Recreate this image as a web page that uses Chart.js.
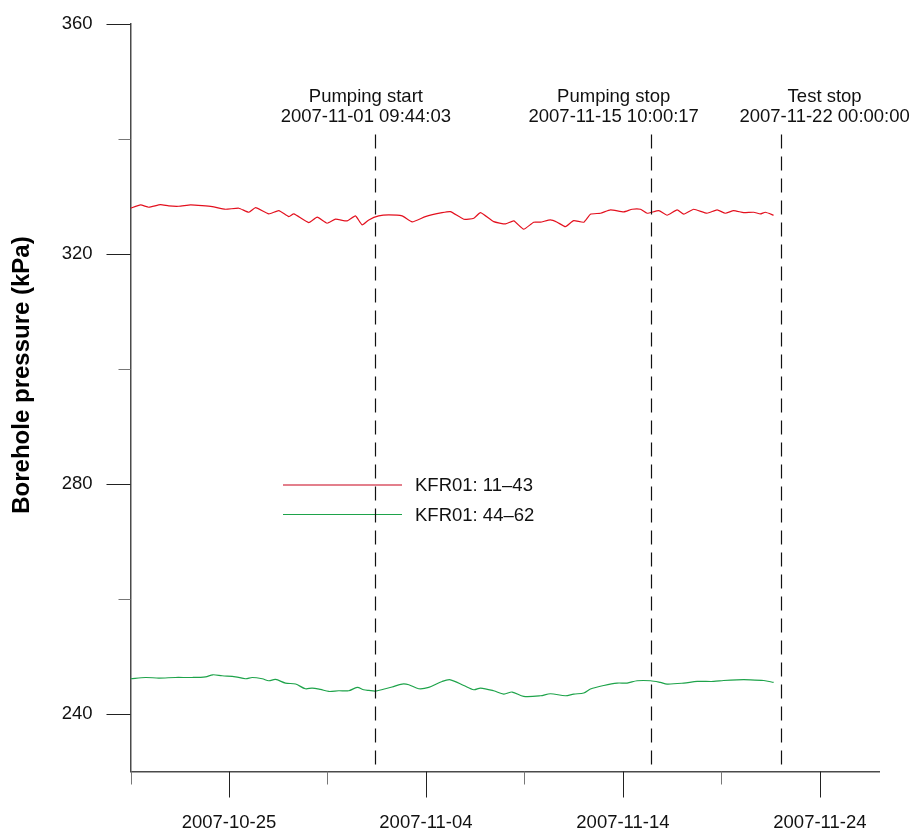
<!DOCTYPE html>
<html>
<head>
<meta charset="utf-8">
<script src="https://cdn.jsdelivr.net/npm/chart.js@4.4.0/dist/chart.umd.min.js"></script>
<style>
  html, body { margin: 0; padding: 0; background: #fff; }
</style>
</head>
<body>
<canvas id="chart" width="916" height="831"></canvas>
<script>
// x values are days after 2007-10-20 00:00
const START = Date.UTC(2007, 9, 20);
const DAY = 86400000;

const redDays = [0.00, 0.51, 0.93, 1.52, 1.94, 2.45, 3.05, 3.64, 4.15, 4.82, 5.50, 6.01, 6.35, 7.02, 7.53, 8.04, 8.29, 9.05, 9.48, 9.98,
  10.41, 11.00, 11.42, 11.76, 12.10, 12.60, 13.11, 13.79, 14.30, 14.97, 15.82, 16.24, 16.92, 17.43, 17.77, 18.44, 19.04, 19.46, 19.96,
  20.47, 20.81, 21.32, 21.66, 22.08, 22.50, 23.01, 23.35, 23.86, 24.37, 25.04, 25.47, 25.89, 26.23, 26.82, 27.24, 27.75, 28.09, 28.59,
  29.27, 29.78, 30.20, 30.62, 31.13, 31.64, 31.98, 32.23, 32.65];
const redKPa = [327.96, 328.53, 328.13, 328.58, 328.36, 328.30, 328.53, 328.41, 328.24, 327.78, 327.96, 327.26, 328.06, 326.97, 327.54,
  326.50, 326.97, 325.46, 326.40, 325.35, 326.05, 325.75, 326.62, 325.06, 325.93, 326.62, 326.80, 326.62, 325.58, 326.50, 327.19, 327.37,
  326.05, 326.22, 327.19, 325.63, 325.23, 325.75, 324.31, 325.53, 325.53, 325.93, 325.53, 324.76, 325.80, 325.53, 326.92, 327.09, 327.66,
  327.32, 327.78, 327.78, 327.09, 327.54, 326.74, 327.66, 326.92, 327.78, 327.09, 327.66, 327.09, 327.54, 327.19, 327.26, 326.97, 327.26,
  326.74];

const greenDays = [0.00, 0.76, 1.44, 2.28, 3.13, 3.81, 4.18, 4.65, 5.33, 5.84, 6.18, 6.69, 7.02, 7.36, 7.87, 8.38, 8.88, 9.22, 9.64, 10.07,
  10.57, 11.08, 11.51, 11.84, 12.10, 12.44, 12.94, 13.28, 13.79, 14.13, 14.63, 15.14, 15.82, 16.24, 16.92, 17.43, 17.77, 18.44, 18.95,
  19.38, 19.96, 20.81, 21.32, 22.08, 22.50, 23.01, 23.35, 24.03, 24.71, 25.21, 25.72, 26.40, 26.90, 27.24, 28.09, 28.77, 29.61, 30.11,
  30.79, 31.47, 32.15, 32.65];
const greenKPa = [246.13, 246.35, 246.25, 246.35, 246.35, 246.47, 246.82, 246.65, 246.47, 246.13, 246.35, 246.13, 245.78, 246.01, 245.38,
  245.21, 244.39, 244.51, 244.27, 243.92, 244.04, 244.04, 244.62, 244.22, 244.10, 243.99, 244.39, 244.69, 245.21, 245.09, 244.39, 244.62,
  245.66, 245.95, 244.96, 244.22, 244.51, 244.04, 243.47, 243.82, 243.06, 243.17, 243.52, 243.17, 243.47, 243.65, 244.34, 244.96, 245.38,
  245.38, 245.78, 245.78, 245.49, 245.21, 245.38, 245.66, 245.66, 245.83, 245.95, 245.95, 245.83, 245.49];

const seriesNames = ['KFR01: 11\u201343', 'KFR01: 44\u201362'];

const eventNames = ['Pumping start', 'Pumping stop', 'Test stop'];
const eventTimes = ['2007-11-01 09:44:03', '2007-11-15 10:00:17', '2007-11-22 00:00:00'];
const eventLabelDays = [11.95, 24.53, 35.24];

const xMajorTicks = [5, 15, 25, 35];
const xMinorTicks = [0, 10, 20, 30];
const yMajorTicks = [240, 280, 320, 360];
const yMinorTicks = [260, 300, 340];

const FONT = "'Liberation Sans', Arial, sans-serif";
const RED = '#e3101e';
const GREEN = '#1ea34a';

function toDays(s) {
  return (Date.parse(s.replace(' ', 'T') + 'Z') - START) / DAY;
}

function dayLabel(d) {
  return new Date(START + d * DAY).toISOString().slice(0, 10);
}

// fixed axis boxes, no extra label overflow padding
function fixBox(size) {
  return s => {
    if (s.isHorizontal()) s.height = size; else s.width = size;
    s.paddingTop = 0; s.paddingBottom = 0; s.paddingLeft = 0; s.paddingRight = 0;
  };
}

const overlay = {
  id: 'overlay',
  afterDatasetsDraw(chart) {
    const ctx = chart.ctx;
    const xs = chart.scales.x, ys = chart.scales.y;
    const area = chart.chartArea;
    ctx.save();

    // tick marks
    ctx.lineWidth = 1;
    const tick = (x1, y1, x2, y2, col) => {
      ctx.strokeStyle = col;
      ctx.beginPath(); ctx.moveTo(x1, y1); ctx.lineTo(x2, y2); ctx.stroke();
    };
    yMajorTicks.forEach(v => { const y = Math.round(ys.getPixelForValue(v)) + 0.5; tick(area.left - 24, y, area.left, y, '#222'); });
    yMinorTicks.forEach(v => { const y = Math.round(ys.getPixelForValue(v)) + 0.5; tick(area.left - 12, y, area.left, y, '#777'); });
    xMajorTicks.forEach(v => { const x = Math.round(xs.getPixelForValue(v)) + 0.5; tick(x, area.bottom, x, area.bottom + 26, '#222'); });
    xMinorTicks.forEach(v => { const x = Math.round(xs.getPixelForValue(v)) + 0.5; tick(x, area.bottom, x, area.bottom + 13, '#777'); });

    // legend
    ctx.lineWidth = 1.2;
    [RED, GREEN].forEach((col, i) => {
      const y = 485 + i * 29.5;
      tick(283, y, 402, y, i === 0 ? '#c8001a' : col);
      ctx.fillStyle = '#111';
      ctx.font = '18.5px ' + FONT;
      ctx.textAlign = 'left';
      ctx.textBaseline = 'middle';
      ctx.fillText(seriesNames[i], 415, y + 1);
    });

    // event lines and labels
    ctx.setLineDash([14, 8]);
    ctx.strokeStyle = '#111';
    ctx.lineWidth = 1.2;
    eventTimes.forEach(t => {
      const x = Math.round(xs.getPixelForValue(toDays(t))) + 0.5;
      ctx.beginPath();
      ctx.moveTo(x, ys.getPixelForValue(340.8));
      ctx.lineTo(x, area.bottom);
      ctx.stroke();
    });
    ctx.setLineDash([]);
    ctx.fillStyle = '#111';
    ctx.font = '18.5px ' + FONT;
    ctx.textAlign = 'center';
    ctx.textBaseline = 'alphabetic';
    eventNames.forEach((n, i) => {
      const x = xs.getPixelForValue(eventLabelDays[i]);
      ctx.fillText(n, x, ys.getPixelForValue(346.5));
      ctx.fillText(eventTimes[i], x, ys.getPixelForValue(343.0));
    });

    // y axis title
    ctx.translate(22.5, 375);
    ctx.rotate(-Math.PI / 2);
    ctx.font = 'bold 24px ' + FONT;
    ctx.textBaseline = 'middle';
    ctx.fillStyle = '#000';
    ctx.fillText('Borehole pressure (kPa)', 0, 0);
    ctx.restore();
  }
};

new Chart(document.getElementById('chart'), {
  type: 'line',
  data: {
    datasets: [
      { label: seriesNames[0], data: redDays.map((d, i) => ({ x: d, y: redKPa[i] })), borderColor: RED, borderWidth: 1.2, tension: 0.15 },
      { label: seriesNames[1], data: greenDays.map((d, i) => ({ x: d, y: greenKPa[i] })), borderColor: GREEN, borderWidth: 1.2, tension: 0.3 }
    ]
  },
  options: {
    responsive: false,
    animation: false,
    layout: { padding: { top: 24, right: 37, left: 0, bottom: 0 } },
    elements: { point: { radius: 0 } },
    plugins: { legend: { display: false }, tooltip: { enabled: false } },
    scales: {
      x: {
        type: 'linear', min: 0, max: 38,
        afterFit: fixBox(59.5),
        grid: { display: false },
        border: { display: true, color: '#4a4a4a', width: 1.5 },
        ticks: {
          stepSize: 5, includeBounds: false, autoSkip: false, maxRotation: 0, padding: 32,
          color: '#111', font: { family: FONT, size: 18.5 },
          callback: v => xMajorTicks.includes(v) ? dayLabel(v) : ''
        }
      },
      y: {
        min: 230, max: 360,
        afterFit: fixBox(130.5),
        grid: { display: false },
        border: { display: true, color: '#4a4a4a', width: 1.5 },
        ticks: {
          stepSize: 20, includeBounds: false, autoSkip: false, padding: 30,
          color: '#111', font: { family: FONT, size: 18.5 },
          callback: v => yMajorTicks.includes(v) ? String(v) : ''
        }
      }
    }
  },
  plugins: [overlay]
});
</script>
</body>
</html>
